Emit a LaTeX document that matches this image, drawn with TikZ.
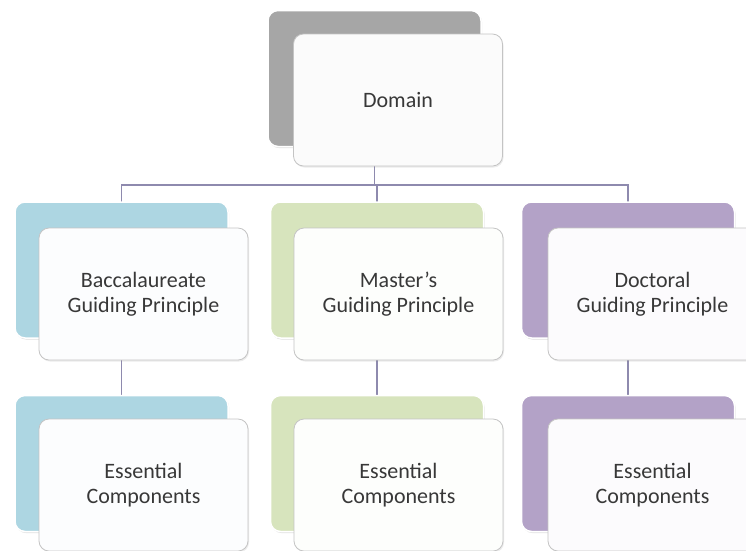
\documentclass[tikz,border=0pt]{standalone}
\usepackage{fontspec}
\setmainfont{Carlito}
\usetikzlibrary{backgrounds,shadows}
\definecolor{cgray}{HTML}{A6A6A6}
\definecolor{cblue}{HTML}{ADD6E2}
\definecolor{cgreen}{HTML}{D7E4BD}
\definecolor{cpurple}{HTML}{B3A2C7}
\definecolor{linec}{HTML}{8E8AAE}
\definecolor{textc}{HTML}{383838}
\definecolor{framec}{HTML}{C4C4C4}
\begin{document}
\begin{tikzpicture}[x=1pt,y=-1pt,
  backbox/.style={draw=white, line width=1.5pt, rounded corners=10pt, fill=#1,
    minimum width=213pt, minimum height=136pt, inner sep=0pt, outer sep=0pt,
    drop shadow={shadow xshift=1pt, shadow yshift=-1.5pt, opacity=0.25}},
  frontbox/.style={draw=framec, line width=0.8pt, rounded corners=10pt, fill=#1!4!white,
    minimum width=209pt, minimum height=132pt, inner sep=0pt, outer sep=0pt,
    align=center, text=textc, font=\fontsize{22}{25}\selectfont,
    drop shadow={shadow xshift=1pt, shadow yshift=-1.5pt, opacity=0.15}},
  conn/.style={draw=linec, line width=1.8pt}]
\useasboundingbox (0,0) rectangle (746,550);
\clip (0,0) rectangle (746,550);
% top
\node[backbox=cgray] (dB) at (374.5,78.5) {};
\node[frontbox=cgray] (dF) at (398,100) {Domain};
% row 1
\node[backbox=cblue] (aB) at (121.5,270) {};
\node[frontbox=cblue] (aF) at (143.5,294) {Baccalaureate\\Guiding Principle};
\node[backbox=cgreen] (bB) at (377,270) {};
\node[frontbox=cgreen] (bF) at (398.5,294) {Master{\char"27}s\\Guiding Principle};
\node[backbox=cpurple] (cB) at (628,270) {};
\node[frontbox=cpurple] (cF) at (652.5,294) {Doctoral\\Guiding Principle};
% row 2
\node[backbox=cblue] (aB2) at (121.5,463.5) {};
\node[frontbox=cblue] (aF2) at (143.5,485) {Essential\\Components};
\node[backbox=cgreen] (bB2) at (377,463.5) {};
\node[frontbox=cgreen] (bF2) at (398.5,485) {Essential\\Components};
\node[backbox=cpurple] (cB2) at (628,463.5) {};
\node[frontbox=cpurple] (cF2) at (652.5,485) {Essential\\Components};
% connectors
\begin{scope}[on background layer]
\fill[white] (0,0) rectangle (746,550);
\coordinate (bus) at (0,185);
\draw[conn] (dB.south) -- (dB.south |- bus);
\draw[conn] (aB.north) |- (cB.north |- bus) -- (cB.north);
\draw[conn] (bB.north) -- (bB.north |- bus);
\draw[conn] (aB.south) -- (aB2.north);
\draw[conn] (bB.south) -- (bB2.north);
\draw[conn] (cB.south) -- (cB2.north);
\end{scope}
\end{tikzpicture}
\end{document}
